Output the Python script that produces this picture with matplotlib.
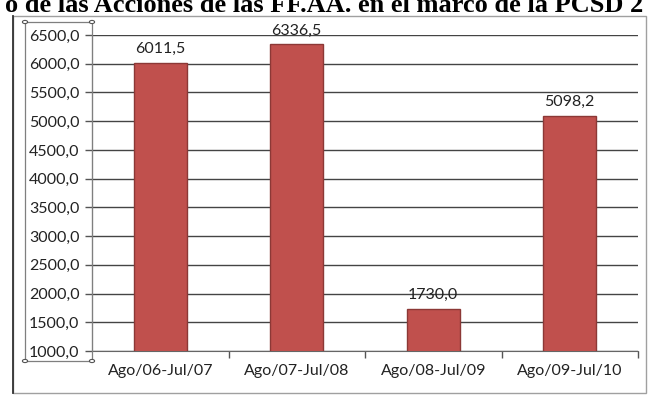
import matplotlib.pyplot as plt
from matplotlib.patches import Rectangle, Circle

# datos
periodos = ["Ago/06-Jul/07", "Ago/07-Jul/08", "Ago/08-Jul/09", "Ago/09-Jul/10"]
valores = [6011.5, 6336.5, 1730.0, 5098.2]
etiquetas = ["6011,5", "6336,5", "1730,0", "5098,2"]
y_ticks = [1000, 1500, 2000, 2500, 3000, 3500, 4000, 4500, 5000, 5500, 6000, 6500]
titulo = "o de las Acciones de las FF.AA. en el marco de la PCSD 2"

W, H = 649, 395
fig = plt.figure(figsize=(W / 100, H / 100), dpi=100)


def fx(px):
    return px / W


def fy(py):
    return 1 - py / H


# marco del grafico (captura de Excel)
fig.patches.append(Rectangle((fx(13), fy(393)), fx(646) - fx(13), fy(16) - fy(393),
                             transform=fig.transFigure, fill=False,
                             edgecolor="#a0a0a0", linewidth=1.0))
fig.lines.append(plt.Line2D([fx(13), fx(13)], [fy(16), fy(393)],
                            transform=fig.transFigure, color="#333333", linewidth=1.3))

# titulo cortado arriba (como en la captura)
fig.text(0.5, fy(12), titulo, ha="center", va="baseline",
         family="Liberation Serif", weight="bold", fontsize=19, color="black")

ax = fig.add_axes([fx(92), fy(351), fx(638) - fx(92), fy(35) - fy(351)])

x = range(len(periodos))
ax.bar(x, valores, width=0.39, bottom=0, color="#c0504d",
       edgecolor="#8c3836", linewidth=1.0, zorder=3)

for xi, v, t in zip(x, valores, etiquetas):
    ax.text(xi, v + 120, t, ha="center", va="bottom",
            family="Lato", fontsize=11.5, color="#222222")

ax.set_xlim(-0.5, len(periodos) - 0.5)
ax.set_ylim(1000, 6500)
ax.set_yticks(y_ticks)
ax.set_yticklabels([f"{v},0" for v in y_ticks], family="Lato", fontsize=11.5, color="#222222")
ax.set_xticks(list(x))
ax.set_xticklabels(periodos, family="Lato", fontsize=11.5, color="#222222")
ax.set_xticks([0.5, 1.5, 2.5, 3.5], minor=True)
ax.tick_params(axis="x", which="major", length=0, pad=9)
ax.tick_params(axis="x", which="minor", length=5, width=1, color="#555555")
ax.tick_params(axis="y", length=5, width=1, color="#555555", pad=4)

ax.grid(axis="y", color="#444444", linewidth=1.0, zorder=0)
for s in ["top", "right"]:
    ax.spines[s].set_visible(False)
ax.spines["left"].set_color("#666666")
ax.spines["bottom"].set_color("#666666")
ax.set_axisbelow(True)

# cuadro de seleccion del eje
fig.patches.append(Rectangle((fx(25), fy(361)), fx(92) - fx(25), fy(22) - fy(361),
                             transform=fig.transFigure, fill=False,
                             edgecolor="#7f7f7f", linewidth=0.9))
for cx, cy in [(25, 22), (92, 22), (25, 361), (92, 361)]:
    fig.patches.append(Circle((fx(cx), fy(cy)), 0.004, transform=fig.transFigure,
                              facecolor="white", edgecolor="#555555", linewidth=0.8))

fig.savefig("out.png", dpi=100)
